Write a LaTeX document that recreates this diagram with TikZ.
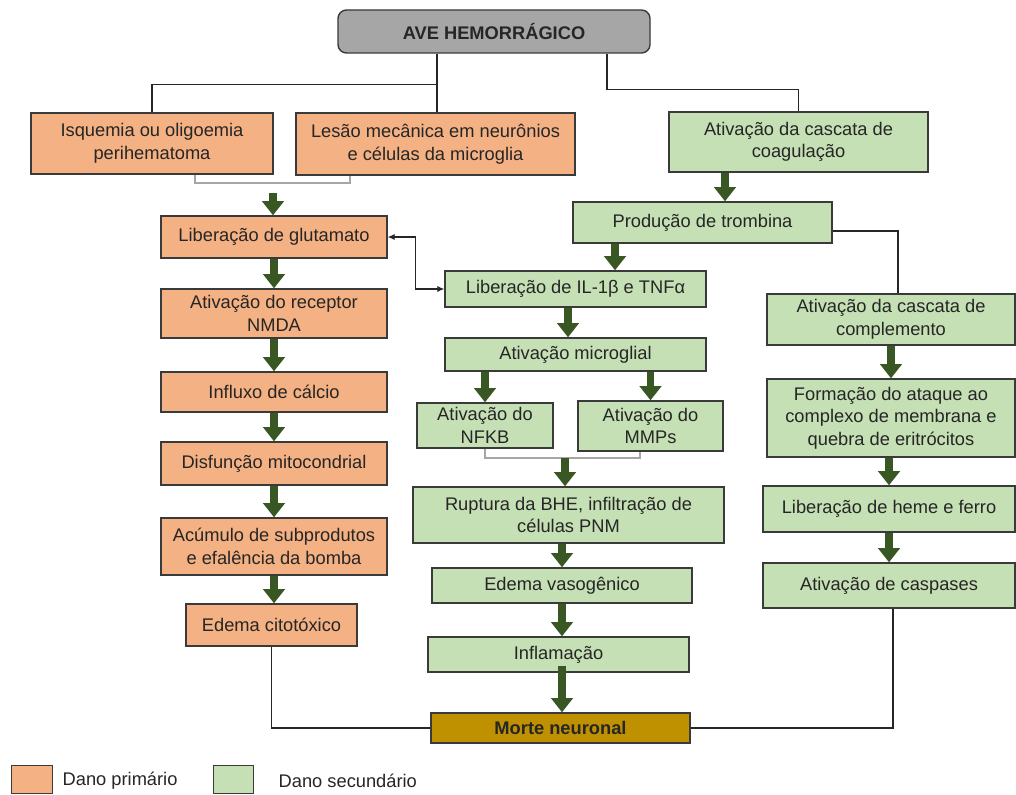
\documentclass[tikz,border=0pt]{standalone}
\usepackage{fontspec}
\setmainfont{Liberation Sans}
\usepackage{xcolor}
\usetikzlibrary{positioning, arrows.meta, calc}

\definecolor{primfill}{HTML}{F4B183}
\definecolor{secfill}{HTML}{C5E0B4}
\definecolor{headfill}{HTML}{A6A6A6}
\definecolor{fimfill}{HTML}{BF9000}
\definecolor{arrgreen}{HTML}{385723}
\definecolor{boxline}{HTML}{3A3A3A}

\begin{document}
\begin{tikzpicture}[
  x=0.025cm, y=-0.025cm,
  every node/.style={font=\fontsize{13}{16}\selectfont, text=black!85, align=center, inner sep=1pt},
  sz/.style 2 args={minimum width=#1*0.025cm, minimum height=#2*0.025cm},
  head/.style={draw=boxline, line width=1pt, rounded corners=6pt, fill=headfill, font=\bfseries\fontsize{13}{16}\selectfont},
  prim/.style={draw=boxline, line width=1pt, fill=primfill},
  sec/.style={draw=boxline, line width=1pt, fill=secfill},
  fim/.style={draw=boxline, line width=1pt, fill=fimfill, font=\bfseries\fontsize{13}{16}\selectfont},
  arr/.style={draw=arrgreen, line width=5.5pt, -{Triangle[length=10pt, width=15pt]}},
  line/.style={draw=black!85, line width=0.8pt},
  brk/.style={draw=gray!70, line width=0.8pt},
  dline/.style={line, {Latex[length=5pt, width=4.5pt]}-{Latex[length=5pt, width=4.5pt]}},
]
\path[fill=white, use as bounding box] (0,0) rectangle (1016,794);

% --- Top ---
\node[head, sz={312}{43}] (ave) at (494,31.5) {AVE HEMORRÁGICO};

\node[prim, sz={242}{61}] (isq) at (152,143.5) {Isquemia ou oligoemia\\perihematoma};
\node[prim, sz={279}{62}] (lesao) at (435.5,144) {Lesão mecânica em neurônios\\e células da microglia};
\node[sec, sz={259}{60}] (coag) at (798.5,142) {Ativação da cascata de\\coagulação};

\draw[line] ($(ave.south)+(-57,0)$) coordinate (t1) -- ++(0,31) -| (isq.north);
\draw[line] (t1) -- (t1 |- lesao.north);
\draw[line] ($(ave.south)+(113,0)$) -- ++(0,36) -| (coag.north);

% --- Primary damage ---
\node[prim, sz={226}{42}] (glut) at (274,237) {Liberação de glutamato};
\node[prim, sz={226}{49}] (nmda) at (274,313.5) {Ativação do receptor\\NMDA};
\node[prim, sz={226}{40}] (ca) at (274,392) {Influxo de cálcio};
\node[prim, sz={226}{43}] (mito) at (274,463.5) {Disfunção mitocondrial};
\node[prim, sz={226}{57}] (acum) at (274,546.5) {Acúmulo de subprodutos\\e efalência da bomba};
\node[prim, sz={171}{42}] (citot) at (271.5,625) {Edema citotóxico};

\coordinate (b1) at (273,183);
\draw[brk] ($(isq.south)+(43,0)$) |- (b1) -| ($(lesao.south)+(-85.5,0)$);
\draw[arr] ([yshift=-7pt]b1) -- (b1 |- glut.north);
\foreach \a/\b in {glut/nmda, nmda/ca, ca/mito, mito/acum, acum/citot} { \draw[arr] (\a.south) -- (\a.south |- \b.north); }

% --- Secondary damage ---
\node[sec, sz={259}{41}] (tromb) at (702.5,222.5) {Produção de trombina};
\node[sec, sz={261}{36}] (il) at (575.5,289) {Liberação de IL-1β e TNFα};
\node[sec, sz={261}{33}] (micro) at (575.5,354.5) {Ativação microglial};
\node[sec, sz={136}{45}] (nfkb) at (485,425.5) {Ativação do\\NFKB};
\node[sec, sz={145}{50}] (mmp) at (650.5,426) {Ativação do\\MMPs};
\node[sec, sz={311}{56}] (bhe) at (568.5,515) {Ruptura da BHE, infiltração de\\células PNM};
\node[sec, sz={260}{35}] (vaso) at (562,585.5) {Edema vasogênico};
\node[sec, sz={261}{35}] (infla) at (558.5,654.5) {Inflamação};

\draw[arr] ($(coag.south)+(-73.5,0)$) coordinate (c1) -- (c1 |- tromb.north);
\draw[arr] ($(tromb.south)+(-87.5,0)$) coordinate (c2) -- (c2 |- il.north);
\draw[arr] ($(il.south)+(-7.5,0)$) coordinate (c3) -- (c3 |- micro.north);
\draw[arr] (micro.south -| nfkb.north) -- (nfkb.north);
\draw[arr] (micro.south -| mmp.north) -- (mmp.north);
\draw[dline] (glut.east) -- ++(28,0) |- (il.west);

\coordinate (b2) at (565,458);
\draw[brk] (nfkb.south) |- (b2) -| ($(mmp.south)+(-10.5,0)$);
\draw[arr] (b2) -- (b2 |- bhe.north);
\draw[arr] (bhe.south -| vaso.north) -- (vaso.north);
\draw[arr] (vaso.south) -- (vaso.south |- infla.north);

% --- Complement ---
\node[sec, sz={248}{51}] (compl) at (891,319.5) {Ativação da cascata de\\complemento};
\node[sec, sz={248}{78}] (mac) at (891,418) {Formação do ataque ao\\complexo de membrana e\\quebra de eritrócitos};
\node[sec, sz={252}{46}] (heme) at (889,509) {Liberação de heme e ferro};
\node[sec, sz={252}{45}] (casp) at (889,585.5) {Ativação de caspases};

\draw[line] ($(tromb.east)+(0,8.5)$) -| ($(compl.north)+(7,0)$);
\draw[arr] (compl.south) -- (compl.south |- mac.north);
\draw[arr] (mac.south -| heme.north) -- (heme.north);
\draw[arr] (heme.south) -- (casp.north);

% --- End ---
\node[fim, sz={259}{30}] (morte) at (560.5,728) {Morte neuronal};
\draw[arr, shorten <=-5pt] (vaso.south |- infla.south) -- (vaso.south |- morte.north);
\draw[line] (citot.south) |- (morte.west);
\draw[line] ($(casp.south)+(4,0)$) |- (morte.east);

% --- Legend ---
\node[prim, sz={41}{28}, anchor=north west] (legp) at (11,765) {};
\node[anchor=west] (legpt) at (61,781) {Dano primário};
\node[sec, sz={40}{28}, anchor=north west] (legs) at (213,765) {};
\node[anchor=west] (legst) at (277,781) {Dano secundário};

\end{tikzpicture}
\end{document}
